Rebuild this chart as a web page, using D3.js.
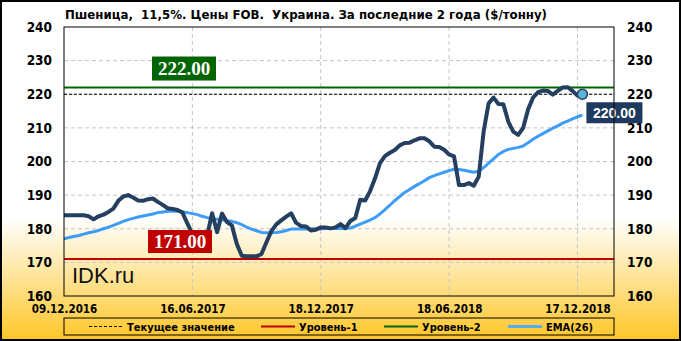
<!DOCTYPE html>
<meta charset="utf-8">
<title>wheat fob</title>
<script src="https://d3js.org/d3.v7.min.js"></script>
<style>
body { margin: 0; }
</style>
<body>
<script>

// weekly price, index 0 = 09.12.2016
var priceValues = [
  184, 184, 184, 184, 184, 183.7, 182.8, 183.7, 184.2, 185,
  186, 188.3, 189.6, 190, 189.3, 188.4, 188.3, 188.8, 189, 188,
  187.1, 186.1, 185.9, 185.6, 184.8, 181.5, 178.5, 177.5, 178, 178,
  184.6, 179, 184.5, 182, 181, 175.5, 172, 171.8, 171.8, 171.8,
  172.5, 176, 179.3, 181.3, 182.5, 183.6, 184.6, 181.8, 180.8, 180.7,
  179.5, 179.7, 180.4, 180.4, 180.1, 180.4, 181.4, 180.2, 182.3, 183.2,
  188.6, 188.4, 191.2, 195, 199.5, 201.6, 202.6, 203.4, 204.8, 205.5,
  205.6, 206.3, 206.9, 206.9, 206, 204.4, 204.3, 203.5, 202.1, 201.5,
  193, 193, 193.6, 192.8, 195.5, 209, 217.3, 219, 217.1, 217,
  211.8, 208.9, 207.9, 210, 215.5, 219, 220.6, 221.1, 221, 219.9,
  221, 222, 222.1, 221, 219.6, 220
];

var emaValues = [
  177.0, 177.4, 177.7, 178.0, 178.4, 178.8, 179.1, 179.5, 180.0, 180.5,
  181.0, 181.6, 182.2, 182.7, 183.1, 183.5, 183.8, 184.1, 184.4, 184.8,
  185.0, 185.2, 185.3, 185.2, 185.0, 184.8, 184.5, 184.2, 183.7, 183.3,
  183.0, 182.8, 182.6, 182.4, 182.2, 181.8, 181.2, 180.5, 179.9, 179.4,
  178.9, 178.8, 178.8, 178.9, 179.1, 179.5, 179.9, 179.9, 179.9, 179.9,
  180.0, 180.0, 180.0, 180.1, 180.1, 180.1, 180.1, 180.1, 180.2, 180.8,
  181.4, 182.0, 182.6, 183.3, 184.4, 185.7, 187.0, 188.4, 189.6, 190.8,
  191.7, 192.6, 193.4, 194.3, 195.2, 195.8, 196.3, 196.8, 197.3, 197.7,
  197.6, 197.4, 197.1, 196.8, 197.1, 198.2, 199.5, 200.8, 202.1, 203.0,
  203.6, 203.9, 204.2, 204.6, 205.6, 206.6, 207.5, 208.3, 209.1, 209.9,
  210.6, 211.4, 212.0, 212.7, 213.3, 213.8
];

var xTickLabels = ["09.12.2016", "16.06.2017", "18.12.2017", "18.06.2018", "17.12.2018"];
var xTickIndex = [0, 26, 52, 78, 104];
var yTicks = [160, 170, 180, 190, 200, 210, 220, 230, 240];

var level1 = 171;
var level2 = 222;
var currentValue = 220;

var titleText = "Пшеница,  11,5%. Цены FOB.  Украина. За последние 2 года ($/тонну)";
var legendLabels = ["Текущее значение", "Уровень-1", "Уровень-2", "EMA(26)"];

var W = 681, H = 341;
var margin = {top: 27, right: 67, bottom: 45, left: 64};
var width = W - margin.left - margin.right;
var height = H - margin.top - margin.bottom;

var navy = "#243f60", emaColor = "#3d9cf5", red = "#c00000", green = "#006400";
var baseFont = "'DejaVu Sans Condensed', 'Liberation Sans', sans-serif";

var svg = d3.select("body").append("svg")
    .attr("width", W)
    .attr("height", H)
    .attr("font-family", baseFont);

var grad = svg.append("defs").append("linearGradient")
    .attr("id", "bg")
    .attr("x1", 0).attr("y1", 0).attr("x2", 0).attr("y2", 1);
grad.append("stop").attr("offset", "0%").attr("stop-color", "#ffffff");
grad.append("stop").attr("offset", "64%").attr("stop-color", "#ffffff");
grad.append("stop").attr("offset", "100%").attr("stop-color", "#ffc628");

svg.append("rect")
    .attr("x", 1).attr("y", 1)
    .attr("width", W - 2).attr("height", H - 2)
    .attr("fill", "url(#bg)")
    .attr("stroke", "#000")
    .attr("stroke-width", 2);

// title
svg.append("text")
    .attr("x", margin.left + 1)
    .attr("y", 19)
    .attr("font-size", "13px")
    .attr("font-weight", "bold")
    .attr("textLength", 482)
    .attr("lengthAdjust", "spacingAndGlyphs")
    .style("white-space", "pre")
    .text(titleText);

var x = d3.scaleLinear().domain([0, 111.4]).range([0, width]);
var y = d3.scaleLinear().domain([160, 240]).range([height, 0]);

var g = svg.append("g")
    .attr("transform", "translate(" + margin.left + "," + margin.top + ")");

// grid
g.selectAll(".hgrid")
  .data(yTicks.slice(1, -1))
  .enter().append("line")
    .attr("x1", 0).attr("x2", width)
    .attr("y1", function(d) { return y(d); })
    .attr("y2", function(d) { return y(d); })
    .attr("stroke", "#c4c4c4")
    .attr("stroke-dasharray", "4,3");

g.selectAll(".vgrid")
  .data(xTickIndex.slice(1))
  .enter().append("line")
    .attr("x1", function(d) { return x(d); })
    .attr("x2", function(d) { return x(d); })
    .attr("y1", 0).attr("y2", height)
    .attr("stroke", "#c4c4c4")
    .attr("stroke-dasharray", "4,3");

// axes (labels only)
var axisL = g.append("g").call(d3.axisLeft(y).tickValues(yTicks).tickSize(0).tickPadding(12));
var axisR = g.append("g").attr("transform", "translate(" + width + ",0)")
    .call(d3.axisRight(y).tickValues(yTicks).tickSize(0).tickPadding(13));
var axisB = g.append("g").attr("transform", "translate(0," + height + ")")
    .call(d3.axisBottom(x).tickValues(xTickIndex).tickSize(0).tickPadding(9)
      .tickFormat(function(d, i) { return xTickLabels[i]; }));

[axisL, axisR, axisB].forEach(function(a) {
  a.select(".domain").remove();
  a.attr("font-family", baseFont);
  a.selectAll("text")
    .attr("font-weight", "bold")
    .attr("fill", "#000");
});
axisL.attr("font-size", "13.5px");
axisR.attr("font-size", "13.5px");
axisB.attr("font-size", "11.5px");

// watermark
g.append("text")
    .attr("x", 8)
    .attr("y", y(163.9))
    .attr("font-family", "'Liberation Sans', Arial, sans-serif")
    .attr("font-size", "22px")
    .attr("fill", "#111")
    .text("IDK.ru");

// levels
g.append("line")
    .attr("x1", 0).attr("x2", width)
    .attr("y1", y(level1)).attr("y2", y(level1))
    .attr("stroke", red).attr("stroke-width", 2);
g.append("line")
    .attr("x1", 0).attr("x2", width)
    .attr("y1", y(level2)).attr("y2", y(level2))
    .attr("stroke", green).attr("stroke-width", 2);
g.append("line")
    .attr("x1", 0).attr("x2", width)
    .attr("y1", y(currentValue)).attr("y2", y(currentValue))
    .attr("stroke", "#000").attr("stroke-width", 1)
    .attr("stroke-dasharray", "3,2");

var line = d3.line()
    .x(function(d, i) { return x(i); })
    .y(function(d) { return y(d); });

g.append("path")
    .datum(emaValues)
    .attr("d", line)
    .attr("fill", "none")
    .attr("stroke", emaColor)
    .attr("stroke-width", 3)
    .attr("stroke-linejoin", "round");

g.append("path")
    .datum(priceValues)
    .attr("d", line)
    .attr("fill", "none")
    .attr("stroke", navy)
    .attr("stroke-width", 4)
    .attr("stroke-linejoin", "round");

var last = priceValues.length - 1;
g.append("circle")
    .attr("cx", x(last))
    .attr("cy", y(priceValues[last]))
    .attr("r", 5)
    .attr("fill", "#5ab6d8")
    .attr("stroke", navy)
    .attr("stroke-width", 1.5);

// value boxes
function valueBox(cx, top, w, h, fill, label, font, size) {
  g.append("rect")
      .attr("x", cx - w / 2).attr("y", top)
      .attr("width", w).attr("height", h)
      .attr("fill", fill);
  g.append("text")
      .attr("x", cx)
      .attr("y", top + h / 2)
      .attr("dy", "0.36em")
      .attr("text-anchor", "middle")
      .attr("font-family", font)
      .attr("font-size", size)
      .attr("font-weight", "bold")
      .attr("fill", "#fff")
      .text(label);
}

valueBox(120, y(level2) - 31, 64, 24, green, level2.toFixed(2), "'Liberation Serif', serif", "19px");
valueBox(116, y(level1) - 29, 64, 23, red, level1.toFixed(2), "'Liberation Serif', serif", "19px");
valueBox(x(last) + 32, y(currentValue) + 8, 56, 21, "#1f3a5f", currentValue.toFixed(2), "'Liberation Sans', sans-serif", "14px");

// plot border
g.append("rect")
    .attr("width", width).attr("height", height)
    .attr("fill", "none")
    .attr("stroke", "#000");

// legend
var legend = svg.append("g").attr("transform", "translate(" + margin.left + ",318)");
legend.append("rect")
    .attr("width", width).attr("height", 17)
    .attr("fill", "none")
    .attr("stroke", "#000");

var legendX = [25, 197, 320, 444];
var legendStyle = [
  {color: "#000", w: 1, dash: "3,2"},
  {color: red, w: 2, dash: null},
  {color: green, w: 2, dash: null},
  {color: "#55adf5", w: 3, dash: null}
];
legendLabels.forEach(function(lab, i) {
  legend.append("line")
      .attr("x1", legendX[i]).attr("x2", legendX[i] + 34)
      .attr("y1", 8.5).attr("y2", 8.5)
      .attr("stroke", legendStyle[i].color)
      .attr("stroke-width", legendStyle[i].w)
      .attr("stroke-dasharray", legendStyle[i].dash);
  legend.append("text")
      .attr("x", legendX[i] + 38)
      .attr("y", 12.5)
      .attr("font-size", "11px")
      .attr("font-weight", "bold")
      .text(lab);
});

</script>
</body>
</html>
